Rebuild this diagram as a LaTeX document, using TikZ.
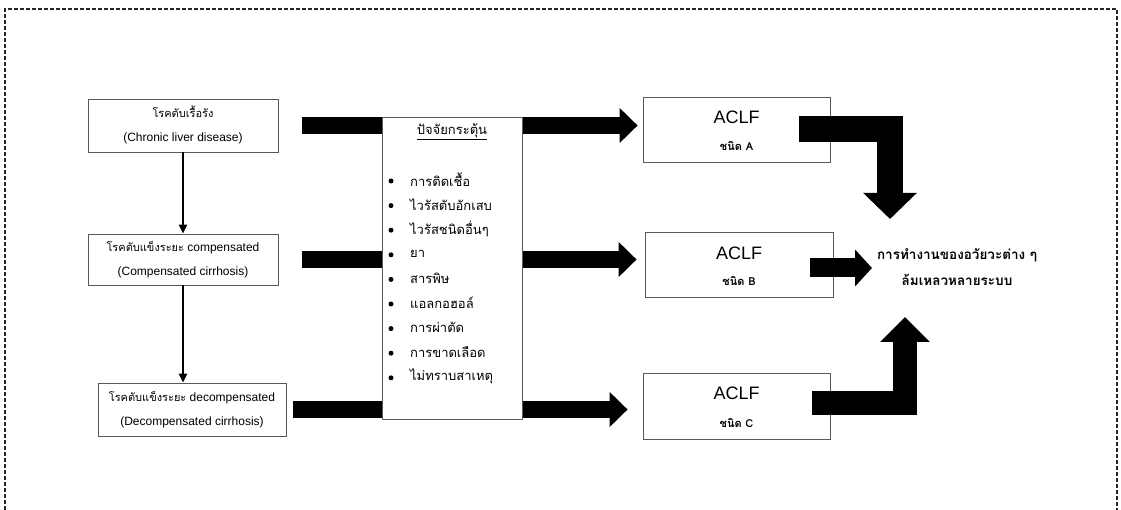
\documentclass[tikz,border=0pt]{standalone}
\usepackage{fontspec}
\setmainfont{Liberation Sans}
\newfontfamily\thai[Script=Thai]{Loma}
\usetikzlibrary{arrows.meta}
\begin{document}
\begin{tikzpicture}[x=1pt,y=-1pt,
  frame/.style={draw=black!85, line width=1.2pt, dash pattern=on 4pt off 2pt},
  box/.style={draw=black!65, line width=0.8pt, fill=white, inner sep=0pt},
  lefttxt/.style={font=\fontsize{12}{24}\selectfont, align=center, inner sep=0pt},
  bar/.style={line width=17pt},
  barrow/.style={line width=17pt, -{Triangle[length=18pt,width=34pt]}},
  elbowA/.style={line width=26pt, -{Triangle[length=26pt,width=52pt]}},
  elbowC/.style={line width=24pt, -{Triangle[length=25pt,width=48pt]}},
  arrowB/.style={line width=19pt, -{Triangle[length=17pt,width=36pt]}},
  thinarrow/.style={line width=2pt, -{Triangle[length=9pt,width=8pt]}},
  item/.style={font=\thai\fontsize{13}{15}\selectfont, anchor=west, inner sep=0pt},
  dot/.style={circle, fill=black, inner sep=0pt, minimum size=5pt},
  aclf/.style={font=\fontsize{18}{20}\selectfont, inner sep=0pt},
  kind/.style={font=\thai\bfseries\fontsize{11}{13}\selectfont, inner sep=0pt}]
\useasboundingbox (0,0) rectangle (1121,510);
\draw[frame] (5,510) -- (5,9) -- (1117,9) -- (1117,510);

% left boxes
\node[box, minimum width=190pt, minimum height=53pt] (box1) at (183,125.5) {};
\node[box, minimum width=190pt, minimum height=51pt] (box2) at (183,259.5) {};
\node[box, minimum width=188pt, minimum height=53pt] (box3) at (192,409.5) {};
\node[lefttxt] (t1) at (183,125) {{\thai\fontsize{11}{24}\selectfont โรคตับเรื้อรัง}\\(Chronic liver disease)};
\node[lefttxt] (t2) at (183,260) {{\thai\fontsize{11}{24}\selectfont โรคตับแข็งระยะ} compensated\\(Compensated cirrhosis)};
\node[lefttxt] (t3) at (192,410) {{\thai\fontsize{11}{24}\selectfont โรคตับแข็งระยะ} decompensated\\(Decompensated cirrhosis)};

\draw[thinarrow] (box1.south) -- (box2.north);
\draw[thinarrow] (box2.south) -- (box2.south |- box3.north);

% ACLF boxes
\node[box, minimum width=187pt, minimum height=65pt] (boxA) at (736.5,129.5) {};
\node[box, minimum width=188pt, minimum height=65pt] (boxB) at (739,264.5) {};
\node[box, minimum width=187pt, minimum height=66pt] (boxC) at (736.5,406) {};

% factor box corners
\coordinate (facNW) at (382,117);
\coordinate (facSE) at (522,419);

% left bars
\draw[bar, shorten <=24pt] (box1.east) -- (box1.east -| facNW);
\draw[bar, shorten <=24pt] (box2.east) -- (box2.east -| facNW);
\draw[bar, shorten <=7pt] (box3.east) -- (box3.east -| facNW);

% right arrows
\draw[barrow, shorten >=5pt] (box1.east -| facSE) -- (box1.east -| boxA.west);
\draw[barrow, shorten >=8pt] (box2.east -| facSE) -- (box2.east -| boxB.west);
\draw[barrow, shorten >=15pt] (box3.east -| facSE) -- (box3.east -| boxC.west);

\node[box, minimum width=140pt, minimum height=302pt] (fac) at (452,268) {};
\node[font=\thai\fontsize{13}{15}\selectfont, inner sep=0pt] (title) at (452,132) {\underline{ปัจจัยกระตุ้น}};
\foreach \t [count=\i from 0] in {การติดเชื้อ, ไวรัสตับอักเสบ, ไวรัสชนิดอื่นๆ, ยา, สารพิษ, แอลกอฮอล์, การผ่าตัด, การขาดเลือด, ไม่ทราบสาเหตุ}{
  \node[dot] (b\i) at (391,181+24.6*\i) {};
  \node[item] (it\i) at (410,180+24.6*\i) {\t};
}

% ACLF texts
\node[aclf] (a1) at (736.5,117) {ACLF};
\node[kind] (a2) at (736.5,146) {ชนิด A};
\node[aclf] (b1) at (739,253) {ACLF};
\node[kind] (b2) at (739,281) {ชนิด B};
\node[aclf] (c1) at (736.5,393) {ACLF};
\node[kind] (c2) at (736.5,423) {ชนิด C};

% output
\node[font=\thai\bfseries\fontsize{13.5}{26}\selectfont, align=center, inner sep=0pt] (out) at (957,267) {การทำงานของอวัยวะต่าง ๆ\\ล้มเหลวหลายระบบ};
\coordinate (tA) at (890,219);
\coordinate (tB) at (872,268);
\coordinate (tC) at (905,317);
\draw[elbowA] ([xshift=-31pt]boxA.east) -| (tA);
\draw[arrowB] ([xshift=-23pt]boxB.east |- tB) -- (tB);
\draw[elbowC] ([xshift=-18pt,yshift=3pt]boxC.east) -| (tC);
\end{tikzpicture}
\end{document}
